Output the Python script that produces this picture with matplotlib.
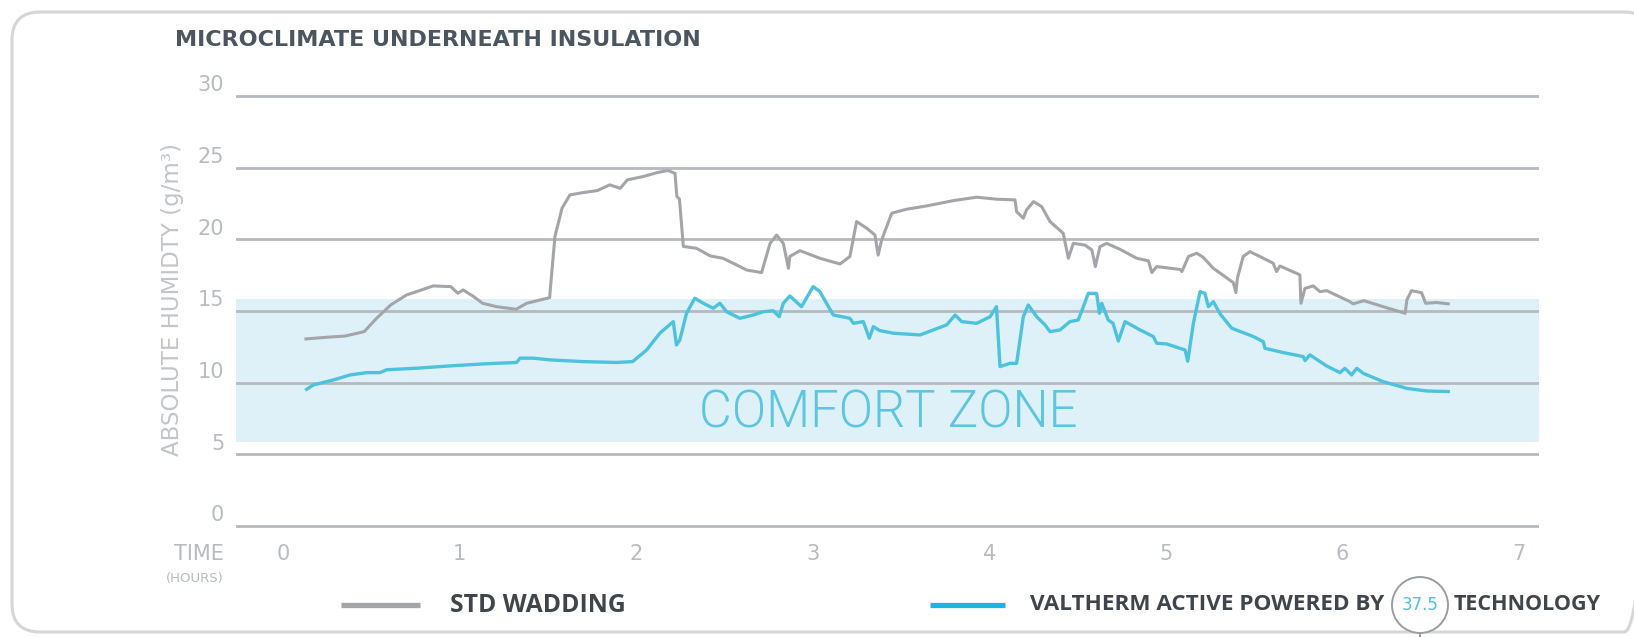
import matplotlib
matplotlib.use("Agg")
import matplotlib.pyplot as plt
from matplotlib.patches import FancyBboxPatch, Ellipse
from matplotlib.transforms import blended_transform_factory

# ----------------------------- data ------------------------------------------
std_x = [0.13, 0.25, 0.35, 0.46, 0.53, 0.61, 0.70, 0.78, 0.85, 0.95, 0.99, 1.02, 1.08, 1.13,
         1.21, 1.32, 1.38, 1.45, 1.51, 1.52, 1.54, 1.58, 1.625, 1.70, 1.78, 1.85, 1.91, 1.95,
         2.04, 2.12, 2.18, 2.22, 2.23, 2.245, 2.267, 2.34, 2.42, 2.49, 2.55, 2.625, 2.71, 2.758,
         2.795, 2.833, 2.862, 2.87, 2.927, 3.04, 3.154, 3.21, 3.248, 3.305, 3.352, 3.37, 3.39,
         3.447, 3.531, 3.645, 3.796, 3.928, 4.04, 4.145, 4.154, 4.192, 4.21, 4.25, 4.296, 4.343,
         4.418, 4.447, 4.475, 4.541, 4.58, 4.60, 4.626, 4.664, 4.74, 4.834, 4.90, 4.92, 4.947,
         5.08, 5.09, 5.127, 5.174, 5.21, 5.268, 5.381, 5.396, 5.404, 5.437, 5.475, 5.532, 5.607,
         5.626, 5.645, 5.739, 5.758, 5.764, 5.787, 5.834, 5.872, 5.91, 6.04, 6.06, 6.12, 6.23,
         6.354, 6.364, 6.39, 6.447, 6.47, 6.532, 6.598]
std_y = [13.05, 13.17, 13.25, 13.56, 14.49, 15.42, 16.12, 16.45, 16.75, 16.70, 16.24, 16.47, 16.0, 15.54,
         15.30, 15.12, 15.54, 15.75, 15.93, 17.4, 20.2, 22.17, 23.1, 23.26, 23.4, 23.8, 23.56, 24.15,
         24.38, 24.66, 24.8, 24.6, 23.0, 22.8, 19.5, 19.38, 18.84, 18.68, 18.33, 17.86, 17.68, 19.72,
         20.3, 19.72, 17.98, 18.8, 19.21, 18.68, 18.28, 18.8, 21.24, 20.78, 20.3, 18.9, 19.96,
         21.82, 22.1, 22.33, 22.7, 22.94, 22.8, 22.75, 21.93, 21.47, 22.05, 22.63, 22.28, 21.24,
         20.42, 18.68, 19.72, 19.6, 19.26, 18.1, 19.49, 19.72, 19.3, 18.68, 18.5, 17.68, 18.1,
         17.9, 17.75, 18.8, 19.03, 18.75, 17.98, 16.98, 16.28, 17.28, 18.8, 19.14, 18.8, 18.33,
         17.75, 18.14, 17.63, 17.52, 15.54, 16.58, 16.75, 16.35, 16.42, 15.66, 15.5, 15.72, 15.3,
         14.84, 15.77, 16.42, 16.28, 15.54, 15.59, 15.5]

val_x = [0.134, 0.172, 0.285, 0.38, 0.474, 0.549, 0.587, 0.757, 0.946, 1.134, 1.323, 1.342, 1.417,
         1.512, 1.70, 1.889, 1.98, 2.059, 2.134, 2.21, 2.228, 2.247, 2.285, 2.332, 2.38, 2.436,
         2.474, 2.512, 2.587, 2.663, 2.72, 2.776, 2.81, 2.833, 2.87, 2.936, 3.002, 3.04, 3.116,
         3.21, 3.23, 3.286, 3.32, 3.343, 3.38, 3.456, 3.607, 3.758, 3.806, 3.843, 3.928, 4.004,
         4.04, 4.06, 4.117, 4.154, 4.192, 4.22, 4.268, 4.315, 4.343, 4.40, 4.456, 4.503, 4.532,
         4.56, 4.607, 4.623, 4.636, 4.673, 4.70, 4.73, 4.768, 4.853, 4.928, 4.947, 5.004, 5.108,
         5.123, 5.155, 5.193, 5.22, 5.24, 5.268, 5.306, 5.372, 5.494, 5.551, 5.56, 5.664, 5.777,
         5.787, 5.815, 5.909, 5.985, 6.013, 6.051, 6.08, 6.117, 6.23, 6.364, 6.477, 6.598]
val_y = [9.54, 9.84, 10.19, 10.54, 10.70, 10.70, 10.90, 11.01, 11.17, 11.31, 11.41, 11.71, 11.71,
         11.59, 11.47, 11.41, 11.47, 12.28, 13.45, 14.26, 12.63, 12.98, 14.84, 15.89, 15.54, 15.19,
         15.54, 14.95, 14.49, 14.72, 14.95, 15.02, 14.6, 15.54, 16.05, 15.3, 16.7, 16.35, 14.72,
         14.49, 14.14, 14.26, 13.1, 13.91, 13.63, 13.45, 13.33, 14.03, 14.72, 14.26, 14.14, 14.6,
         15.3, 11.12, 11.35, 11.35, 14.6, 15.42, 14.6, 14.03, 13.56, 13.68, 14.26, 14.37, 15.3,
         16.23, 16.23, 14.84, 15.54, 14.37, 14.14, 12.9, 14.26, 13.68, 13.22, 12.75, 12.7, 12.28,
         11.5, 14.14, 16.35, 16.23, 15.3, 15.65, 14.8, 13.8, 13.22, 12.86, 12.4, 12.1, 11.82,
         11.54, 11.94, 11.17, 10.7, 11.0, 10.54, 11.0, 10.65, 10.07, 9.6, 9.42, 9.38]

comfort_zone = (5.85, 15.82)
y_ticks = [0, 5, 10, 15, 20, 25, 30]
x_ticks = [0, 1, 2, 3, 4, 5, 6, 7]

title = "MICROCLIMATE UNDERNEATH INSULATION"
y_label = "ABSOLUTE HUMIDTY (g/m³)"
series_labels = ["STD WADDING", "VALTHERM ACTIVE POWERED BY"]

# ----------------------------- style -----------------------------------------
GRAY_LINE = "#a4a5a9"
BLUE_LINE = "#4cc2de"
BAND = "#dff1f8"
GRID = "#b6b9be"
TICK_TXT = "#b8bcc0"
DARK = "#3f454b"
NUM = ["DejaVu Sans"]
SANS = ["Open Sans", "DejaVu Sans"]

W, H = 1634, 637
fig = plt.figure(figsize=(W / 100, H / 100), dpi=100)

# main axes (pixel-derived placement)
ax = fig.add_axes([236 / W, 103.8 / H, (1539 - 236) / W, (548.2 - 103.8) / H])
ax.set_xlim(-0.266, 7.112)
ax.set_ylim(-0.5, 30.5)
for s in ax.spines.values():
    s.set_visible(False)

ax.axhspan(*comfort_zone, color=BAND, zorder=1, lw=0)
for v in y_ticks:
    ax.axhline(v, color=GRID, lw=2.0, zorder=2)

ax.text(3.43, 7.85, "COMFORT ZONE", ha="center", va="center", color="#5cc6e0",
        fontsize=36.5, family=["Roboto", "DejaVu Sans"], fontweight=300, zorder=2)

ax.plot(std_x, std_y, color=GRAY_LINE, lw=2.2, zorder=3)
ax.plot(val_x, val_y, color=BLUE_LINE, lw=2.4, zorder=4)

ax.set_yticks([])
ax.set_xticks(x_ticks)
ax.set_xticklabels([str(t) for t in x_ticks], color=TICK_TXT, fontsize=15, family=NUM)
ax.tick_params(axis="x", length=0, pad=8)

# y tick labels sit just above their gridline, left of it
tr = blended_transform_factory(ax.transAxes, ax.transData)
for v in y_ticks:
    ax.text(-0.009, v + 0.05, str(v), transform=tr, ha="right", va="bottom",
            color=TICK_TXT, fontsize=15, family=NUM)

# overlay in pixel coordinates for decorations
ov = fig.add_axes([0, 0, 1, 1], zorder=-1)
ov.set_xlim(0, W)
ov.set_ylim(H, 0)
ov.axis("off")

frame = FancyBboxPatch((12, 12), 1640, 620, boxstyle="round,pad=0,rounding_size=28",
                       fc="none", ec="#d6d6d6", lw=2.2)
ov.add_patch(frame)

top = fig.add_axes([0, 0, 1, 1], zorder=5)
top.set_xlim(0, W)
top.set_ylim(H, 0)
top.axis("off")
top.patch.set_alpha(0)

top.text(175, 46, title, ha="left", va="baseline", color="#4b5660", fontsize=16,
         fontweight="bold", family=NUM)
top.text(173, 299, y_label, ha="center", va="center", rotation=90, color="#c2c6ca",
         fontsize=16.5, family=NUM)
top.text(224, 560, "TIME", ha="right", va="baseline", color=TICK_TXT, fontsize=15, family=NUM)
top.text(224, 582, "(HOURS)", ha="right", va="baseline", color=TICK_TXT, fontsize=9.5, family=NUM)

# legend
top.plot([341, 420], [605, 605], color=GRAY_LINE, lw=3.8, solid_capstyle="butt")
top.text(450, 605, series_labels[0], ha="left", va="center", color=DARK, fontsize=17.8,
         fontweight="bold", family=SANS)
top.plot([930, 1005], [605, 605], color="#1fb3e3", lw=3.8, solid_capstyle="butt")
top.text(1030, 605, series_labels[1], ha="left", va="center", color=DARK, fontsize=16.2,
         fontweight="bold", family=SANS)
top.add_patch(Ellipse((1420, 605), 56, 56, fc="white", ec="#9a9ea3", lw=1.4))
top.plot([1420, 1420], [633, 637], color="#9a9ea3", lw=1.4)
top.text(1420, 605, "37.5", ha="center", va="center", color="#4cc2de", fontsize=12,
         family=NUM)
top.text(1454, 605, "TECHNOLOGY", ha="left", va="center", color=DARK, fontsize=15.5,
         fontweight="bold", family=SANS)

fig.savefig("out.png", dpi=100, facecolor="white")
